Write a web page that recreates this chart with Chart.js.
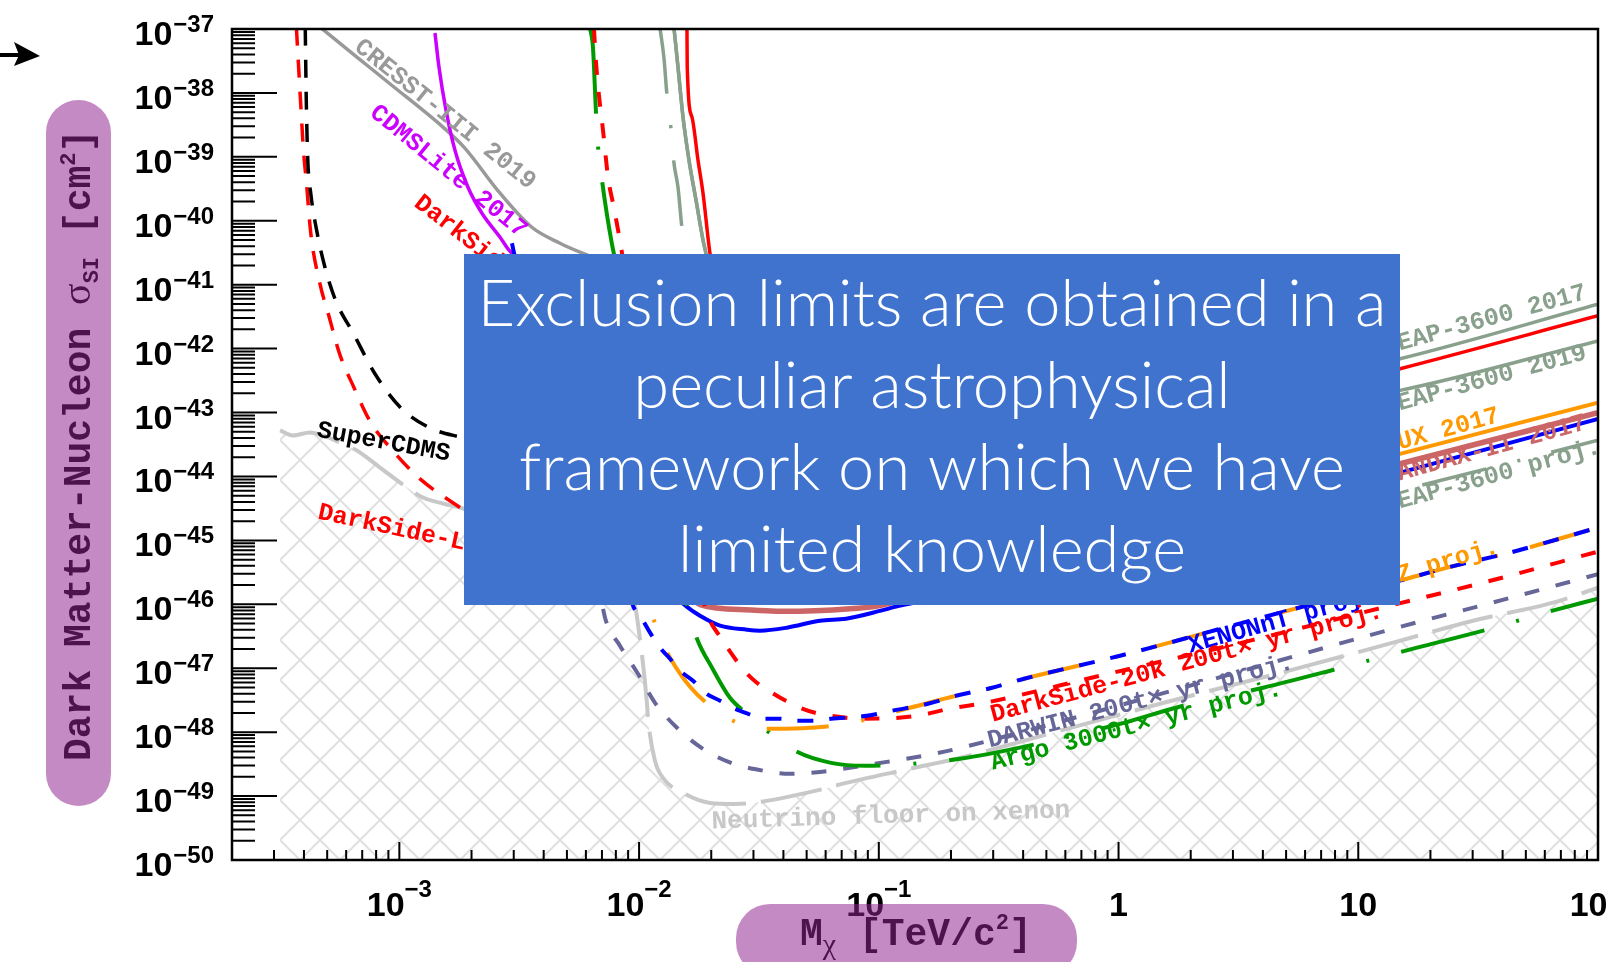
<!DOCTYPE html>
<html>
<head>
<meta charset="utf-8">
<title>Dark matter spin-independent exclusion limits</title>
<script src="https://cdn.jsdelivr.net/npm/chart.js@4.4.0/dist/chart.umd.min.js"></script>
<style>
  html, body { margin: 0; padding: 0; background: #fff; overflow: hidden; }
  #c { display: block; }
</style>
</head>
<body>
<canvas id="c" width="1608" height="962"></canvas>
<script>
// ---------------- axis ranges and tick labels ----------------
const massMin = 2.004e-4, massMax = 100;          // TeV/c^2
const sigmaMin = 1e-50, sigmaMax = 1e-37;         // cm^2
const yTickExponents = [-37, -38, -39, -40, -41, -42, -43, -44, -45, -46, -47, -48, -49, -50];
const xTickValues = [1e-3, 1e-2, 1e-1, 1, 10, 100];
const xTickBase = ['10', '10', '10', '1', '10', '100'];
const xTickExp  = ['−3', '−2', '−1', '', '', ''];

// ---------------- limit curves (mass in TeV/c^2, sigma in cm^2) ----------------
const ds50LowMassMass  = [3.72e-4, 3.87e-4, 3.98e-4, 4.10e-4, 4.27e-4, 4.66e-4, 5.10e-4, 5.62e-4, 6.45e-4, 7.62e-4, 9.39e-4, 1.20e-3, 1.74e-3, 2.39e-3, 3.86e-3];
const ds50LowMassSigma = [1.05e-37, 7.6e-39, 1.29e-39, 3.79e-40, 6.43e-41, 1.05e-41, 3.10e-42, 8.49e-43, 2.51e-43, 6.87e-44, 2.53e-44, 9.66e-45, 3.51e-45, 1.71e-45, 1.0e-45];

const superCdmsMass  = [4.05e-4, 4.09e-4, 4.15e-4, 4.27e-4, 4.49e-4, 4.89e-4, 5.42e-4, 6.44e-4, 7.91e-4, 1.006e-3, 1.32e-3, 1.80e-3, 2.63e-3, 4.68e-3];
const superCdmsSigma = [1.05e-37, 7.73e-39, 8.88e-40, 2.67e-40, 8.01e-41, 1.89e-41, 5.70e-42, 1.71e-42, 4.05e-43, 1.22e-43, 5.91e-44, 4.12e-44, 3.05e-44, 2.37e-44];

const cresstMass  = [4.71e-4, 6.65e-4, 9.05e-4, 1.52e-3, 1.86e-3, 2.63e-3, 3.57e-3, 4.68e-3, 5.67e-3, 1.01e-2];
const cresstSigma = [1.04e-37, 3.64e-38, 1.43e-38, 2.92e-39, 1.42e-39, 2.70e-40, 7.92e-41, 4.45e-41, 3.22e-41, 1.40e-41];

const cdmsliteMass  = [1.408e-3, 1.463e-3, 1.565e-3, 1.706e-3, 1.933e-3, 2.211e-3, 2.63e-3, 2.866e-3, 3.51e-3];
const cdmsliteSigma = [8.66e-38, 2.54e-38, 5.39e-39, 1.27e-39, 3.35e-40, 1.31e-40, 5.52e-41, 3.46e-41, 1.68e-41];

const xenon1tMass  = [2.95e-3, 3.01e-3, 3.86e-3, 6.87e-3, 1.111e-2, 1.600e-2, 1.795e-2, 2.176e-2, 2.82e-2, 3.19e-2, 4.14e-2, 5.68e-2, 7.30e-2, 0.1021, 0.1180, 0.320, 1.353, 4.72, 14.94, 100];
const xenon1tSigma = [4.45e-41, 3.10e-41, 1.93e-42, 1.24e-44, 3.37e-46, 8.86e-47, 6.64e-47, 4.63e-47, 4.01e-47, 3.87e-47, 4.31e-47, 5.54e-47, 5.96e-47, 7.96e-47, 9.19e-47, 1.96e-46, 9.93e-46, 3.77e-45, 1.15e-44, 7.94e-44];

const pandaxMass  = [5.67e-3, 1.009e-2, 1.481e-2, 1.795e-2, 2.77e-2, 3.87e-2, 5.42e-2, 7.58e-2, 0.1012, 0.320, 1.353, 4.72, 14.94, 100];
const pandaxSigma = [1.68e-41, 2.55e-44, 3.37e-46, 9.87e-47, 8.24e-47, 7.81e-47, 7.96e-47, 8.55e-47, 9.53e-47, 4.03e-46, 1.71e-45, 5.61e-45, 1.58e-44, 1.00e-43];

const luxMass  = [4.68e-3, 8.32e-3, 1.481e-2, 3.19e-2, 7.58e-2, 0.320, 1.353, 4.72, 14.94, 100];
const luxSigma = [5.70e-42, 8.64e-45, 1.64e-46, 1.14e-46, 1.23e-46, 4.83e-46, 2.04e-45, 7.22e-45, 2.26e-44, 1.43e-43];

const ds50Mass  = [1.584e-2, 1.588e-2, 1.662e-2, 1.761e-2, 1.848e-2, 1.976e-2, 2.176e-2, 2.77e-2, 3.87e-2, 7.58e-2, 0.198, 0.837, 3.54, 14.94, 100];
const ds50Sigma = [1.04e-37, 2.54e-38, 4.18e-39, 8.88e-40, 2.70e-40, 3.10e-41, 5.70e-42, 2.22e-43, 2.55e-44, 1.04e-44, 1.24e-44, 3.66e-44, 1.29e-43, 4.85e-43, 3.26e-42];

const deap2017Mass  = [1.398e-2, 1.453e-2, 1.525e-2, 1.615e-2, 1.728e-2, 1.848e-2, 1.901e-2, 2.015e-2, 2.394e-2, 3.35e-2, 6.26e-2, 0.1635, 0.691, 3.21, 14.94, 100];
const deap2017Sigma = [1.04e-37, 2.54e-38, 4.18e-39, 8.88e-40, 2.10e-40, 4.96e-41, 3.10e-41, 8.17e-42, 4.56e-43, 5.24e-44, 1.78e-44, 2.13e-44, 6.28e-44, 2.06e-43, 6.96e-43, 4.95e-42];

const deap2019Mass  = [1.398e-2, 1.453e-2, 1.525e-2, 1.615e-2, 1.728e-2, 1.848e-2, 1.901e-2, 2.073e-2, 2.51e-2, 3.52e-2, 6.57e-2, 0.1716, 0.725, 3.37, 14.94, 100];
const deap2019Sigma = [1.04e-37, 2.54e-38, 4.18e-39, 8.88e-40, 2.10e-40, 4.96e-41, 3.10e-41, 8.17e-42, 3.81e-43, 3.66e-44, 1.24e-44, 1.33e-44, 3.66e-44, 9.01e-44, 2.22e-43, 1.32e-42];

const deapProjMass  = [1.222e-2, 1.270e-2, 1.307e-2, 1.359e-2, 1.398e-2, 1.453e-2, 1.510e-2, 1.631e-2, 1.883e-2, 2.394e-2, 3.87e-2, 7.58e-2, 0.198, 0.837, 3.54, 14.94, 100];
const deapProjSigma = [1.04e-37, 3.51e-38, 9.25e-39, 2.72e-39, 7.96e-40, 3.35e-40, 7.64e-41, 1.17e-41, 4.56e-43, 1.78e-44, 9.93e-46, 2.81e-46, 2.52e-46, 4.83e-46, 1.71e-45, 6.03e-45, 3.68e-44];

const ds20kMass  = [6.48e-3, 6.61e-3, 6.80e-3, 7.07e-3, 7.42e-3, 7.86e-3, 8.49e-3, 1.009e-2, 1.346e-2, 1.795e-2, 1.976e-2, 2.134e-2, 2.35e-2, 2.585e-2, 2.82e-2, 3.10e-2, 3.585e-2, 3.95e-2, 4.69e-2, 5.42e-2, 7.30e-2, 8.68e-2, 0.1443, 0.1963, 0.2774, 0.837, 3.54, 13.57, 33.2, 100];
const ds20kSigma = [1.04e-37, 3.04e-38, 9.25e-39, 2.62e-39, 4.81e-40, 1.57e-40, 3.10e-41, 3.18e-43, 4.20e-45, 1.64e-46, 5.54e-47, 3.47e-47, 2.02e-47, 1.22e-47, 8.20e-48, 5.93e-48, 4.13e-48, 3.33e-48, 2.41e-48, 2.01e-48, 1.68e-48, 1.62e-48, 1.80e-48, 2.32e-48, 2.88e-48, 7.64e-48, 2.70e-47, 9.53e-47, 2.18e-46, 6.68e-46];

const xenonntMass  = [7.56e-3, 8.73e-3, 9.43e-3, 1.028e-2, 1.111e-2, 1.222e-2, 1.346e-2, 1.481e-2, 1.679e-2, 1.883e-2, 2.176e-2, 2.464e-2, 2.85e-2, 3.29e-2, 3.87e-2, 4.56e-2, 5.31e-2, 6.32e-2, 8.93e-2, 0.1135, 0.1604, 0.2100, 0.2967, 0.4035, 1.015, 3.54, 14.94, 23.5, 42.98, 100];
const xenonntSigma = [4.20e-45, 2.81e-46, 9.53e-47, 5.96e-47, 3.60e-47, 2.10e-47, 1.41e-47, 9.14e-48, 6.37e-48, 4.13e-48, 3.10e-48, 2.41e-48, 1.94e-48, 1.62e-48, 1.62e-48, 1.51e-48, 1.51e-48, 1.62e-48, 1.80e-48, 2.16e-48, 2.78e-48, 3.71e-48, 4.95e-48, 6.85e-48, 1.57e-47, 5.54e-47, 2.35e-46, 3.75e-46, 6.44e-46, 1.59e-45];

const lzMass  = [6.87e-3, 9.16e-3, 1.089e-2, 1.188e-2, 1.258e-2, 1.346e-2, 1.631e-2, 2.073e-2, 2.464e-2, 2.99e-2, 3.69e-2, 5.16e-2, 7.30e-2, 0.1299, 0.2100, 0.2967, 0.4035, 1.015, 3.54, 14.94, 23.5, 42.98, 100];
const lzSigma = [1.55e-43, 9.93e-46, 9.53e-47, 4.31e-47, 2.42e-47, 1.46e-47, 5.13e-48, 2.24e-48, 1.51e-48, 1.17e-48, 1.13e-48, 1.17e-48, 1.35e-48, 2.32e-48, 3.71e-48, 4.95e-48, 6.85e-48, 1.57e-47, 5.54e-47, 2.35e-46, 3.75e-46, 6.44e-46, 1.59e-45];

const darwinMass  = [5.67e-3, 6.87e-3, 7.21e-3, 8.32e-3, 9.89e-3, 1.165e-2, 1.439e-2, 1.848e-2, 2.42e-2, 3.32e-2, 4.26e-2, 5.68e-2, 9.55e-2, 0.1783, 0.320, 0.837, 3.54, 14.52, 36.15, 100];
const darwinSigma = [2.55e-44, 1.64e-46, 6.18e-47, 2.25e-47, 8.20e-48, 2.88e-48, 1.17e-48, 5.48e-49, 3.31e-49, 2.48e-49, 2.23e-49, 2.39e-49, 3.19e-49, 4.75e-49, 8.15e-49, 2.16e-48, 9.82e-48, 4.31e-47, 1.06e-46, 2.96e-46];

const argoMass  = [6.24e-3, 6.42e-3, 6.61e-3, 6.74e-3, 7.00e-3, 7.71e-3, 8.73e-3, 1.111e-2, 1.346e-2, 1.584e-2, 1.744e-2, 2.015e-2, 2.394e-2, 2.82e-2, 3.42e-2, 4.56e-2, 6.32e-2, 8.76e-2, 0.1350, 0.2182, 0.4194, 1.015, 1.858, 4.01, 7.63, 17.59, 33.2, 60.2, 100];
const argoSigma = [1.04e-37, 5.22e-38, 5.01e-39, 1.47e-39, 4.32e-40, 4.29e-41, 5.70e-42, 7.52e-44, 2.04e-45, 9.53e-47, 2.90e-47, 1.02e-47, 3.45e-48, 1.94e-48, 1.05e-48, 4.92e-49, 3.31e-49, 2.97e-49, 3.19e-49, 3.83e-49, 6.11e-49, 1.35e-48, 2.59e-48, 4.95e-48, 9.14e-48, 2.10e-47, 3.87e-47, 7.40e-47, 1.23e-46];

const nuFloorMass  = [3.18e-4, 3.60e-4, 4.24e-4, 4.80e-4, 5.65e-4, 6.65e-4, 8.30e-4, 1.076e-3, 1.254e-3, 1.52e-3, 1.84e-3, 2.63e-3, 4.25e-3, 6.24e-3, 7.93e-3, 9.16e-3, 9.61e-3, 9.89e-3, 1.079e-2, 1.089e-2, 1.165e-2, 1.258e-2, 1.554e-2, 1.976e-2, 2.51e-2, 2.99e-2, 5.91e-2, 7.02e-2, 0.1350, 0.2182, 0.570, 1.490, 5.72, 13.97, 30.1, 64.96, 100];
const nuFloorSigma = [5.24e-44, 4.38e-44, 4.88e-44, 4.38e-44, 3.40e-44, 2.55e-44, 1.38e-44, 6.71e-45, 4.68e-45, 3.77e-45, 3.15e-45, 1.90e-45, 1.19e-45, 6.92e-46, 3.62e-46, 1.64e-46, 9.53e-47, 4.98e-47, 2.78e-48, 1.68e-48, 3.56e-49, 1.93e-49, 1.08e-49, 7.82e-50, 7.54e-50, 7.82e-50, 1.30e-49, 1.55e-49, 2.67e-49, 3.96e-49, 1.05e-48, 2.78e-48, 1.02e-47, 2.51e-47, 5.54e-47, 1.06e-46, 1.82e-46];

// ---------------- colours ----------------
const C = {
  red: '#ff0000', blue: '#0000ff', green: '#009900', black: '#000000',
  orange: '#ff9900', pink: '#cc6666', magenta: '#cc00ff', gray: '#999999',
  deap: '#88a08c', slate: '#666699', floor: '#c8c8c8', hatch: '#e0e0e0',
  pill: 'rgba(144, 36, 144, 0.533)', panel: '#3f73cd'
};

// ---------------- curve annotations (anchored in data units) ----------------
const curveLabels = [
  { text: 'CRESST-III 2019', m: 1.55e-3, s: 4.58e-39, angle: 38.8, color: C.gray, align: 'center', base: 'middle' },
  { text: 'CDMSLite 2017', m: 1.60e-3, s: 5.86e-40, angle: 39.3, color: C.magenta, align: 'center', base: 'middle' },
  { text: 'DarkSide-50', m: 1.184e-3, s: 2.10e-40, angle: 38, color: C.red, align: 'left', base: 'middle' },
  { text: 'SuperCDMS', m: 4.49e-4, s: 4.23e-44, angle: 10.4, color: C.black },
  { text: 'DarkSide-LowMass', m: 4.53e-4, s: 2.19e-45, angle: 12, color: C.red },
  { text: 'XENONnT proj.', m: 1.988, s: 1.75e-47, angle: -15.5, color: C.blue },
  { text: 'DarkSide-20k 200t× yr proj.', m: 0.2987, s: 1.45e-48, angle: -15, color: C.red },
  { text: 'DARWIN 200t× yr proj.', m: 0.290, s: 5.77e-49, angle: -14.5, color: C.slate },
  { text: 'Argo 3000t× yr proj.', m: 0.2987, s: 2.57e-49, angle: -14.5, color: C.green },
  { text: 'Neutrino floor on xenon', m: 2.01e-2, s: 3.11e-50, angle: -1.8, color: C.floor, size: 26 },
  { text: 'DEAP-3600 2017', m: 12.94, s: 8.13e-43, angle: -15.4, color: C.deap },
  { text: 'DEAP-3600 2019', m: 12.94, s: 9.34e-44, angle: -15.4, color: C.deap },
  { text: 'LUX 2017', m: 12.94, s: 2.29e-44, angle: -15.4, color: C.orange },
  { text: 'PANDAX-II 2017', m: 12.94, s: 7.48e-45, angle: -15.4, color: C.pink },
  { text: 'DEAP-3600 proj.', m: 12.94, s: 2.72e-45, angle: -15.4, color: C.deap },
  { text: 'LZ proj.', m: 12.94, s: 1.89e-46, angle: -16.5, color: C.orange }
];

const noteLines = ['Exclusion limits are obtained in a', 'peculiar astrophysical', 'framework on which we have', 'limited knowledge'];

// ---------------- helpers ----------------
function pairs(mass, sigma) {
  return mass.map((m, i) => ({ x: m, y: sigma[i] }));
}

function makeHatch() {
  const P = 40;
  const c = document.createElement('canvas');
  c.width = P; c.height = P;
  const g = c.getContext('2d');
  g.strokeStyle = C.hatch;
  g.lineWidth = 2;
  g.beginPath();
  for (const k of [-P, 0, P]) {
    g.moveTo(k, 0); g.lineTo(k + P, P);
    g.moveTo(k + P, 0); g.lineTo(k, P);
  }
  g.stroke();
  return g.createPattern(c, 'repeat');
}

function line(label, mass, sigma, color, width, dash, extra) {
  return Object.assign({
    label,
    data: pairs(mass, sigma),
    showLine: true,
    borderColor: color,
    backgroundColor: color,
    borderWidth: width,
    borderDash: dash || [],
    borderCapStyle: 'butt',
    borderJoinStyle: 'round',
    pointRadius: 0,
    cubicInterpolationMode: 'monotone',
    fill: false
  }, extra || {});
}

function roundedRect(ctx, x, y, w, h, r) {
  ctx.beginPath();
  ctx.moveTo(x + r, y);
  ctx.lineTo(x + w - r, y);
  ctx.arcTo(x + w, y, x + w, y + r, r);
  ctx.lineTo(x + w, y + h - r);
  ctx.arcTo(x + w, y + h, x + w - r, y + h, r);
  ctx.lineTo(x + r, y + h);
  ctx.arcTo(x, y + h, x, y + h - r, r);
  ctx.lineTo(x, y + r);
  ctx.arcTo(x, y, x + r, y, r);
  ctx.closePath();
}

// draws a run of [text, font, baselineShift] pieces starting at the current origin
function drawRuns(ctx, runs) {
  let u = 0;
  for (const [t, font, dv] of runs) {
    ctx.font = font;
    ctx.fillText(t, u, dv);
    u += ctx.measureText(t).width;
  }
}

// ---------------- decorations drawn through the chart scales ----------------
const decorations = {
  id: 'decorations',
  afterDatasetsDraw(chart) {
    const { ctx, chartArea: a, scales: { x, y } } = chart;
    ctx.save();
    ctx.beginPath();
    ctx.rect(a.left, a.top, a.right - a.left, a.bottom - a.top);
    ctx.clip();
    for (const L of curveLabels) {
      ctx.save();
      ctx.translate(x.getPixelForValue(L.m), y.getPixelForValue(L.s));
      ctx.rotate(L.angle * Math.PI / 180);
      ctx.font = `bold ${L.size || 25}px "Liberation Mono", "Courier New", monospace`;
      ctx.fillStyle = L.color;
      ctx.textAlign = L.align || 'left';
      ctx.textBaseline = L.base || 'alphabetic';
      ctx.fillText(L.text, 0, 0);
      ctx.restore();
    }
    ctx.restore();

    // frame and ticks
    ctx.save();
    ctx.strokeStyle = '#000';
    ctx.lineWidth = 2.5;
    ctx.strokeRect(a.left, a.top, a.right - a.left, a.bottom - a.top);
    ctx.lineWidth = 2;
    ctx.beginPath();
    for (let e = -50; e <= -37; e++) {
      const p = y.getPixelForValue(Math.pow(10, e));
      ctx.moveTo(a.left, p); ctx.lineTo(a.left + 45, p);
      if (e < -37) {
        for (let k = 2; k <= 9; k++) {
          const q = y.getPixelForValue(k * Math.pow(10, e));
          ctx.moveTo(a.left, q); ctx.lineTo(a.left + 23, q);
        }
      }
    }
    for (let e = -4; e <= 2; e++) {
      const v = Math.pow(10, e);
      if (v >= massMin && v <= massMax) {
        const p = x.getPixelForValue(v);
        ctx.moveTo(p, a.bottom); ctx.lineTo(p, a.bottom - 18);
      }
      for (let k = 2; k <= 9; k++) {
        const w = k * v;
        if (w > massMin && w < massMax) {
          const q = x.getPixelForValue(w);
          ctx.moveTo(q, a.bottom); ctx.lineTo(q, a.bottom - 10);
        }
      }
    }
    ctx.stroke();
    ctx.restore();
  },
  afterDraw(chart) {
    const { ctx, chartArea: a, scales: { x, y } } = chart;
    ctx.save();
    ctx.fillStyle = '#000';
    ctx.textBaseline = 'alphabetic';
    const big = 'bold 34px "Liberation Sans", Arial, sans-serif';
    const small = 'bold 24px "Liberation Sans", Arial, sans-serif';

    // y tick labels
    for (const e of yTickExponents) {
      const p = y.getPixelForValue(Math.pow(10, e));
      const sup = '−' + Math.abs(e);
      ctx.font = small;
      const ws = ctx.measureText(sup).width;
      ctx.textAlign = 'left';
      ctx.fillText(sup, a.left - 18 - ws, p + 3);
      ctx.font = big;
      ctx.textAlign = 'right';
      ctx.fillText('10', a.left - 19 - ws, p + 16);
    }
    // x tick labels
    ctx.textAlign = 'left';
    xTickValues.forEach((v, i) => {
      const p = x.getPixelForValue(v);
      ctx.font = big;
      const wb = ctx.measureText(xTickBase[i]).width;
      ctx.font = small;
      const we = xTickExp[i] ? ctx.measureText(xTickExp[i]).width : 0;
      const s = p - (wb + we) / 2;
      ctx.font = big;
      ctx.fillText(xTickBase[i], s, a.bottom + 56);
      if (we) { ctx.font = small; ctx.fillText(xTickExp[i], s + wb, a.bottom + 37); }
    });

    // axis titles, then translucent pills laid over them
    const mono = 'bold 38px "Liberation Mono", "Courier New", monospace';
    const monoSmall = 'bold 22px "Liberation Mono", "Courier New", monospace';
    ctx.fillStyle = '#000';
    ctx.save();
    ctx.translate(90, 761);
    ctx.rotate(-Math.PI / 2);
    drawRuns(ctx, [
      ['Dark Matter-Nucleon ', mono, 0],
      ['σ', '40px "Liberation Serif", "Times New Roman", serif', 0],
      ['SI', monoSmall, 8],
      [' [cm', mono, 0],
      ['2', monoSmall, -15],
      [']', mono, 0]
    ]);
    ctx.restore();

    ctx.save();
    ctx.translate(800, 945);
    drawRuns(ctx, [
      ['M', mono, 0],
      ['χ', '30px "Liberation Serif", "Times New Roman", serif', 9],
      [' [TeV/c', mono, 0],
      ['2', monoSmall, -16],
      [']', mono, 0]
    ]);
    ctx.restore();

    ctx.fillStyle = C.pill;
    roundedRect(ctx, 46, 100, 65, 706, 32.5); ctx.fill();
    roundedRect(ctx, 736, 904, 341, 72, 34); ctx.fill();

    // arrow at the top left
    ctx.fillStyle = '#000';
    ctx.fillRect(0, 53, 22, 4);
    ctx.beginPath();
    ctx.moveTo(14, 42); ctx.lineTo(40, 56); ctx.lineTo(14, 66); ctx.lineTo(19, 55);
    ctx.closePath(); ctx.fill();

    // note panel
    ctx.fillStyle = C.panel;
    ctx.fillRect(464, 254, 936, 351);
    ctx.fillStyle = '#ffffff';
    ctx.textAlign = 'center';
    ctx.font = '300 65px Lato, "Open Sans", sans-serif';
    noteLines.forEach((t, i) => ctx.fillText(t, 932, 326 + i * 82));
    ctx.restore();
  }
};

// ---------------- chart ----------------
const datasets = [
  line('XENONnT proj.', xenonntMass, xenonntSigma, C.blue, 4, [16, 16]),
  line('LZ proj.', lzMass, lzSigma, C.orange, 4, [62, 33, 3, 33]),
  line('DarkSide-20k proj.', ds20kMass, ds20kSigma, C.red, 4, [15, 17]),
  line('Argo proj.', argoMass, argoSigma, C.green, 4, [86, 33, 3, 33]),
  line('DARWIN proj.', darwinMass, darwinSigma, C.slate, 4, [15, 17]),
  line('XENON1T', xenon1tMass, xenon1tSigma, C.blue, 4),
  line('PandaX-II 2017', pandaxMass, pandaxSigma, C.pink, 5.5),
  line('LUX 2017', luxMass, luxSigma, C.orange, 4),
  line('DarkSide-50', ds50Mass, ds50Sigma, C.red, 3.5),
  line('DEAP-3600 2017', deap2017Mass, deap2017Sigma, C.deap, 3.5),
  line('DEAP-3600 2019', deap2019Mass, deap2019Sigma, C.deap, 3.5),
  line('DEAP-3600 proj.', deapProjMass, deapProjSigma, C.deap, 3.5, [66, 32, 3, 32]),
  line('CDMSLite 2017', cdmsliteMass, cdmsliteSigma, C.magenta, 3.5),
  line('CRESST-III 2019', cresstMass, cresstSigma, C.gray, 3.5),
  line('SuperCDMS', superCdmsMass, superCdmsSigma, C.black, 3.5, [18, 14]),
  line('DarkSide-50 low mass', ds50LowMassMass, ds50LowMassSigma, C.red, 3.5, [18, 14]),
  line('Neutrino floor', nuFloorMass, nuFloorSigma, C.floor, 4, [62, 15],
       { fill: 'start', backgroundColor: makeHatch() })
];

new Chart(document.getElementById('c'), {
  type: 'scatter',
  data: { datasets },
  options: {
    responsive: false,
    animation: false,
    devicePixelRatio: 1,
    layout: { padding: { left: 232, right: 10, top: 29, bottom: 102 } },
    plugins: { legend: { display: false }, tooltip: { enabled: false } },
    scales: {
      x: { type: 'logarithmic', min: massMin, max: massMax, display: false },
      y: { type: 'logarithmic', min: sigmaMin, max: sigmaMax, display: false }
    }
  },
  plugins: [decorations]
});
</script>
</body>
</html>
